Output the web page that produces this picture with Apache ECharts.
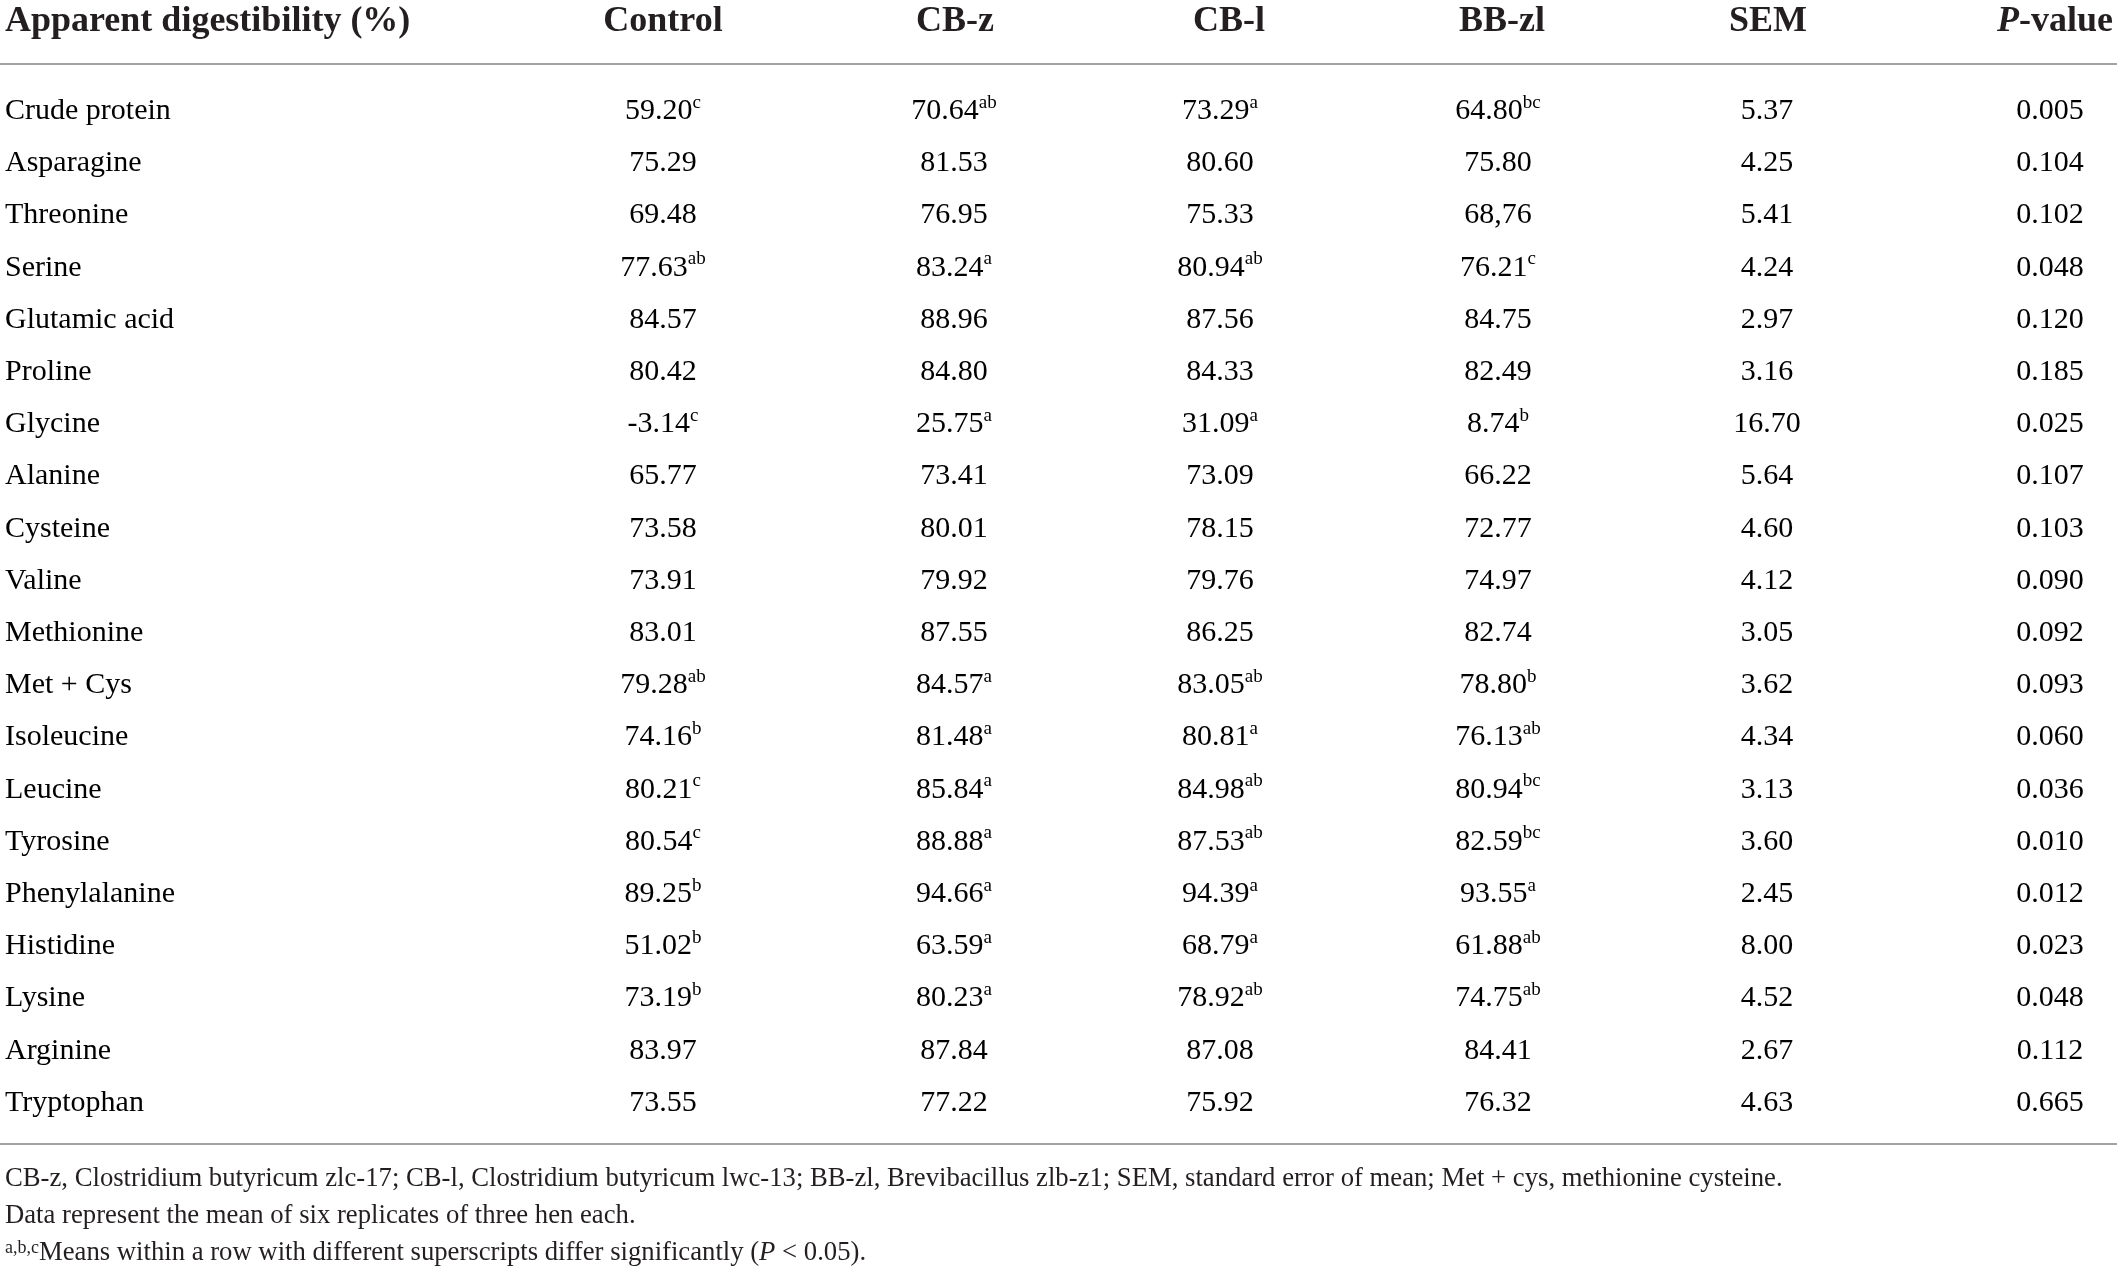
<!DOCTYPE html>
<html>
<head>
<meta charset="utf-8">
<script src="https://cdn.jsdelivr.net/npm/echarts@6/dist/echarts.min.js"></script>
<style>
  html, body { margin: 0; background: #fff; }
  #chart { width: 2117px; height: 1272px; }
</style>
</head>
<body>
<div id="chart"></div>
<script>
/* Apparent digestibility table, drawn as text cells on hidden axes. */
const rowNames = ["Crude protein", "Asparagine", "Threonine", "Serine", "Glutamic acid", "Proline", "Glycine",
  "Alanine", "Cysteine", "Valine", "Methionine", "Met + Cys", "Isoleucine", "Leucine", "Tyrosine",
  "Phenylalanine", "Histidine", "Lysine", "Arginine", "Tryptophan"];
const headers = ["Apparent digestibility (%)", "Control", "CB-z", "CB-l", "BB-zl", "SEM", "{i|P}-value"];

const control = ["59.20", "75.29", "69.48", "77.63", "84.57", "80.42", "-3.14", "65.77", "73.58", "73.91",
  "83.01", "79.28", "74.16", "80.21", "80.54", "89.25", "51.02", "73.19", "83.97", "73.55"];
const controlSup = ["c", "", "", "ab", "", "", "c", "", "", "", "", "ab", "b", "c", "c", "b", "b", "b", "", ""];
const cbz = ["70.64", "81.53", "76.95", "83.24", "88.96", "84.80", "25.75", "73.41", "80.01", "79.92",
  "87.55", "84.57", "81.48", "85.84", "88.88", "94.66", "63.59", "80.23", "87.84", "77.22"];
const cbzSup = ["ab", "", "", "a", "", "", "a", "", "", "", "", "a", "a", "a", "a", "a", "a", "a", "", ""];
const cbl = ["73.29", "80.60", "75.33", "80.94", "87.56", "84.33", "31.09", "73.09", "78.15", "79.76",
  "86.25", "83.05", "80.81", "84.98", "87.53", "94.39", "68.79", "78.92", "87.08", "75.92"];
const cblSup = ["a", "", "", "ab", "", "", "a", "", "", "", "", "ab", "a", "ab", "ab", "a", "a", "ab", "", ""];
const bbzl = ["64.80", "75.80", "68,76", "76.21", "84.75", "82.49", "8.74", "66.22", "72.77", "74.97",
  "82.74", "78.80", "76.13", "80.94", "82.59", "93.55", "61.88", "74.75", "84.41", "76.32"];
const bbzlSup = ["bc", "", "", "c", "", "", "b", "", "", "", "", "b", "ab", "bc", "bc", "a", "ab", "ab", "", ""];
const sem = ["5.37", "4.25", "5.41", "4.24", "2.97", "3.16", "16.70", "5.64", "4.60", "4.12",
  "3.05", "3.62", "4.34", "3.13", "3.60", "2.45", "8.00", "4.52", "2.67", "4.63"];
const pValue = ["0.005", "0.104", "0.102", "0.048", "0.120", "0.185", "0.025", "0.107", "0.103", "0.090",
  "0.092", "0.093", "0.060", "0.036", "0.010", "0.012", "0.023", "0.048", "0.112", "0.665"];

const footnotes = [
  "CB-z, Clostridium butyricum zlc-17; CB-l, Clostridium butyricum lwc-13; BB-zl, Brevibacillus zlb-z1; SEM, standard error of mean; Met + cys, methionine cysteine.",
  "Data represent the mean of six replicates of three hen each.",
  "{s|a,b,c}Means within a row with different superscripts differ significantly ({i|P} < 0.05).",
];

// layout (pixel positions of columns, header and rules)
const colX = [5, 663, 954, 1220, 1498, 1767, 2050];
const headX = [5, 663, 955, 1229, 1502, 1768, 2113];
const headAlign = ["left", "center", "center", "center", "center", "center", "right"];
const FONT = "'Liberation Serif', 'DejaVu Serif', serif";
const INK = "#231f20";
const RULE = "#a3a3a3";

const cols = [[control, controlSup], [cbz, cbzSup], [cbl, cblSup], [bbzl, bbzlSup], [sem, null], [pValue, null]];
const cells = [];
rowNames.forEach((_, r) => { for (let c = 0; c < 7; c++) cells.push([c, r]); });

const cellRich = {
  n: { fontFamily: FONT, fontSize: 30, lineHeight: 36, color: INK },
  s: { fontFamily: FONT, fontSize: 19, lineHeight: 19, color: INK, verticalAlign: "top" },
};

const chart = echarts.init(document.getElementById("chart"));
chart.setOption({
  animation: false,
  grid: { left: 0, right: 0, top: 85, bottom: 143 },
  xAxis: { type: "value", min: 0, max: 2117, show: false },
  yAxis: { type: "category", data: rowNames, inverse: true, show: false },
  series: [{
    type: "custom",
    data: cells,
    renderItem: (params, api) => {
      const c = api.value(0), r = api.value(1);
      const p = api.coord([colX[c], r]);
      let text;
      if (c === 0) text = "{n|" + rowNames[r] + "}";
      else {
        const [vals, sups] = cols[c - 1];
        text = "{n|" + vals[r] + "}" + (sups && sups[r] ? "{s|" + sups[r] + "}" : "");
      }
      return {
        type: "text",
        style: { x: p[0], y: p[1], text, rich: cellRich, align: c === 0 ? "left" : "center", verticalAlign: "middle" },
      };
    },
  }],
  graphic: [
    ...headers.map((h, i) => ({
      type: "text", x: headX[i], y: 22,
      style: {
        text: h, align: headAlign[i], verticalAlign: "middle",
        font: "bold 36px " + FONT, fill: INK,
        rich: { i: { fontFamily: FONT, fontSize: 36, fontWeight: "bold", fontStyle: "italic", color: INK } },
      },
    })),
    { type: "line", shape: { x1: 0, y1: 64, x2: 2117, y2: 64 }, style: { stroke: RULE, lineWidth: 2 } },
    { type: "line", shape: { x1: 0, y1: 1144, x2: 2117, y2: 1144 }, style: { stroke: RULE, lineWidth: 2 } },
    ...footnotes.map((t, i) => ({
      type: "text", x: 5, y: 1179 + i * 37,
      style: {
        text: t, align: "left", verticalAlign: "middle", font: "26.7px " + FONT, fill: INK,
        rich: {
          s: { fontFamily: FONT, fontSize: 18, lineHeight: 18, color: INK, verticalAlign: "top" },
          i: { fontFamily: FONT, fontSize: 26.7, fontStyle: "italic", color: INK },
        },
      },
    })),
  ],
});
</script>
</body>
</html>
